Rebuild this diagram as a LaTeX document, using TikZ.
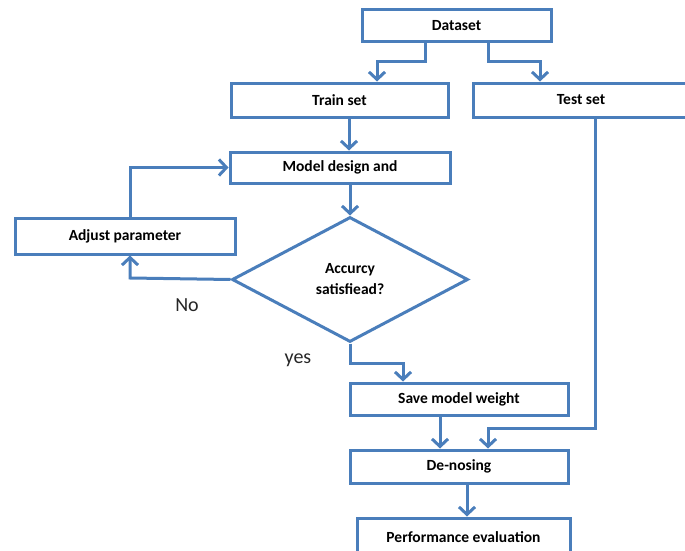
\documentclass[tikz,border=0pt]{standalone}
\usepackage{fontspec}
\setmainfont{Carlito}
\usetikzlibrary{arrows.meta, shapes.geometric, calc}
\definecolor{flowblue}{RGB}{74,126,187}
\tikzset{
  box/.style={draw=flowblue, line width=3pt, fill=white, inner sep=0pt,
    font=\fontsize{15.5}{21}\selectfont\bfseries},
  flow/.style={draw=flowblue, line width=3pt, -{Straight Barb[length=7.5pt, width=16pt]}},
  answer/.style={font=\fontsize{20}{22}\selectfont, text=black!85}
}

\begin{document}
\begin{tikzpicture}[x=1pt, y=-1pt]
            \useasboundingbox (0,0) rectangle (685,551);
            \clip (0,0) rectangle (685,551);

            \node[box, minimum width=189pt, minimum height=32pt] (dataset) at (456.5,26) {Dataset};
            \node[box, minimum width=217pt, minimum height=34pt] (train) at (339.5,100) {Train set};
            \node[box, minimum width=216pt, minimum height=34pt] (test) at (581,100) {Test set};
            \node[box, minimum width=220pt, minimum height=31pt] (model) at (340,167.5) {Model design and};
            \node[box, minimum width=220pt, minimum height=36pt] (adjust) at (125,236) {Adjust parameter};
            \node[box, diamond, align=center, minimum width=236pt, minimum height=125pt] (check) at (350,279.5) {Accurcy\\satisfiead?};
            \node[box, minimum width=218pt, minimum height=32pt] (save) at (459,399) {Save model weight};
            \node[box, minimum width=218pt, minimum height=33pt] (denoise) at (459,466.5) {De-nosing};
            \node[box, minimum width=213pt, minimum height=38pt] (perf) at (463.5,537) {Performance evaluation};

            \coordinate (D1) at (425,62);
            \coordinate (D2) at (377,62);
            \coordinate (D3) at (488,62);
            \coordinate (D4) at (540,62);
            \coordinate (N1) at (130,278);
            \coordinate (N2) at (130,167.5);
            \coordinate (Y1) at (350,363);
            \coordinate (Y2) at (403,363);
            \coordinate (T1) at (595,428);
            \coordinate (T2) at (488,428);

            \draw[flow] (D1 |- dataset.south) -- (D1) -- (D2) -- (D2 |- train.north);
            \draw[flow] (D3 |- dataset.south) -- (D3) -- (D4) -- (D4 |- test.north);
            \draw[flow] ($(train.south)+(9.5,0)$) -- ($(model.north)+(9,0)$);
            \draw[flow] (check.north |- model.south) -- (check.north);
            \draw[flow] (check.west) -- (N1) -- (N1 |- adjust.south);
            \draw[flow] (N2 |- adjust.north) -- (N2) -- (model.west);
            \draw[flow] (check.south) -- (Y1) -- (Y2) -- (Y2 |- save.north);
            \draw[flow] (save.south -| 440,0) -- (denoise.north -| 440,0);
            \draw[flow] (T1 |- test.south) -- (T1) -- (T2) -- (T2 |- denoise.north);
            \draw[flow] (denoise.south -| 467,0) -- (perf.north -| 467,0);

            \node[answer] (no) at (187,305) {No};
            \node[answer] (yes) at (298,360) {yes};
        \end{tikzpicture}
\end{document}
